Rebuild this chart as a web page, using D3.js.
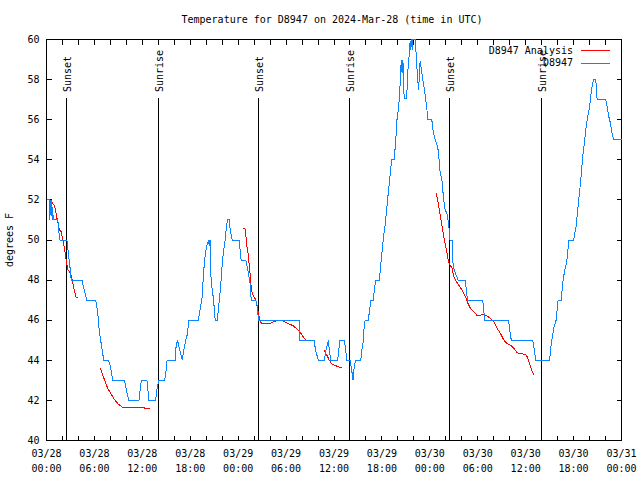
<!DOCTYPE html>
<html><head><meta charset="utf-8">
<script src="https://cdn.jsdelivr.net/npm/d3@7"></script>
<style>
body{margin:0;background:#fff}
svg{display:block}
text{font-family:"DejaVu Sans Mono",monospace;font-size:10px;fill:#000}
</style>
</head><body>
<svg id="chart" width="640" height="480"></svg>
<script>
// ---------------- data ----------------
const titleText = "Temperature for D8947 on 2024-Mar-28 (time in UTC)";
const yLabelText = "degrees F";
const startUTC = "2024-03-28T00:00:00Z";
const endUTC = "2024-03-31T00:00:00Z";
const yTickValues = [40, 42, 44, 46, 48, 50, 52, 54, 56, 58, 60];
const xTickHours = [0,2,4,6,8,10,12,14,16,18,20,22,24,26,28,30,32,34,36,38,40,42,44,46,48,50,52,54,56,58,60,62,64,66,68,70,72];
const xLabelHours = [0, 6, 12, 18, 24, 30, 36, 42, 48, 54, 60, 66, 72];
const sunLabels = ["Sunset", "Sunrise", "Sunset", "Sunrise", "Sunset", "Sunrise"];
const sunHours = [2.45, 13.95, 26.45, 37.92, 50.45, 61.88];
const seriesNames = ["D8947 Analysis", "D8947"];

// station observations: [hours since start, temperature F]
const stationObs = [[0,52],[0.35,52],[0.42,51],[0.5,52],[0.58,51.2],[0.66,52],[0.75,51],[0.8,51.3],[0.9,51],[1.42,51],[1.55,50.4],[1.7,50],[2.55,50],[2.75,49.3],[2.9,48.8],[3.1,48],[4.47,48],[4.6,47.7],[4.85,47.3],[5.06,47],[6.15,47],[6.3,46.7],[6.45,46.2],[6.55,45.7],[6.7,45.2],[6.9,44.7],[7.05,44.3],[7.19,44],[7.78,44],[8.0,43.7],[8.15,43.3],[8.32,43],[9.78,43],[10.0,42.5],[10.33,42],[11.58,42],[11.87,43],[12.58,43],[12.83,42],[13.67,42],[13.84,42.6],[14.05,43],[14.8,43],[14.93,43.3],[15.1,44],[16.1,44],[16.15,44.5],[16.4,45],[16.6,44.67],[17.0,44],[17.19,44.5],[17.44,45],[17.6,45.25],[17.73,45.67],[17.85,46],[19.0,46],[19.15,46.33],[19.28,46.67],[19.44,47],[19.53,47.33],[19.61,48],[19.73,48.67],[19.9,49.33],[20.03,49.67],[20.3,50],[20.38,49.7],[20.45,50],[20.5,50],[20.53,48.5],[20.66,47.83],[20.87,47.17],[20.99,46.67],[21.12,46],[21.41,46],[21.53,46.67],[21.66,47],[21.78,47.67],[21.91,48.17],[22.03,49],[22.2,49.5],[22.37,50],[22.45,50.33],[22.54,50.67],[22.66,51],[22.87,51],[22.95,50.67],[23.08,50.33],[23.25,50],[24.12,50],[24.25,49.5],[24.37,49],[24.96,49],[25.21,48.5],[25.43,48],[25.55,47.67],[25.63,47],[26.22,47],[26.38,46.7],[26.47,46.33],[26.55,46],[31.65,46],[31.74,45],[33.49,45],[33.7,44.5],[34.03,44],[34.79,44],[35.0,44.5],[35.29,45],[35.41,44.5],[35.62,44],[36.46,44],[36.59,44.5],[36.75,45],[37.3,45],[37.47,44.5],[37.59,44],[38.0,44],[38.22,43.5],[38.38,43],[38.55,43.75],[38.71,44],[39.35,44],[39.51,44.58],[39.68,45],[39.76,45.58],[39.89,46],[40.31,46],[40.44,46.5],[40.64,47],[40.93,47],[41.02,47.42],[41.23,48],[41.68,48],[41.81,48.58],[41.98,49.25],[42.1,49.75],[42.23,50.25],[42.4,50.75],[42.52,51.25],[42.65,51.75],[42.77,52.25],[42.9,52.75],[43.03,53.25],[43.11,53.58],[43.24,54],[43.57,54],[43.6,54.33],[43.69,54.75],[43.78,55.25],[43.86,55.92],[44.03,56.42],[44.15,56.92],[44.2,57.25],[44.28,57.75],[44.37,58.42],[44.41,59],[44.53,58.33],[44.62,59],[44.7,58.33],[44.78,57.08],[45.12,57.08],[45.16,57.75],[45.24,58.42],[45.37,59],[45.45,59.42],[45.53,59.92],[45.62,59.5],[45.7,60],[45.79,59.5],[45.87,60],[46.15,60],[46.29,59.25],[46.37,58.75],[46.45,58.08],[46.62,57.5],[46.66,58.1],[46.79,58.92],[46.91,58.58],[47.08,58.08],[47.29,57.58],[47.46,57.08],[47.62,56.58],[47.75,56],[48.25,56],[48.38,55.5],[48.67,55],[48.88,54.75],[49.08,54.42],[49.21,53.75],[49.3,53.33],[49.51,53],[49.71,52.1],[49.92,51.5],[50.14,51.33],[50.34,50.83],[50.47,50.33],[50.53,50],[50.83,50],[50.88,48.92],[51.05,48.5],[51.54,48],[52.44,48],[52.57,47.5],[52.73,47],[54.61,47],[54.73,46.67],[54.85,46],[57.87,46],[58.0,45.5],[58.2,45],[60.88,45],[61.09,44.5],[61.25,44],[63.0,44],[63.18,44.75],[63.35,45.17],[63.56,45.67],[63.81,46],[63.93,46.5],[64.06,47],[64.44,47],[64.56,47.5],[64.69,48],[64.89,48.5],[65.1,48.83],[65.23,49.17],[65.39,50],[66.02,50],[66.14,50.33],[66.31,50.67],[66.48,51.33],[66.6,51.83],[66.73,52.33],[66.86,52.83],[66.98,53.33],[67.07,53.83],[67.19,54.33],[67.36,54.83],[67.48,55.33],[67.7,56],[67.95,56.5],[68.12,57],[68.24,57.5],[68.4,57.83],[68.53,58],[68.78,58],[68.95,57],[70.03,57],[70.2,56.67],[70.4,56.17],[70.61,55.83],[70.74,55.5],[70.9,55.17],[71.03,55],[72,55]];

// analysis segments: [hours since start, temperature F]
const analysis1 = [[0.66,51.9],[0.92,51.75],[1.13,51.5],[1.3,51.1],[1.63,50.5],[1.84,50.42],[2.05,50],[2.17,49.75],[2.34,49.33],[2.47,49],[2.68,48.5],[2.89,48.42],[3.09,48.25],[3.3,47.83],[3.51,47.42],[3.72,47.13],[3.93,47.13]];
const analysis2 = [[6.77,43.6],[7.06,43.25],[7.36,42.92],[7.69,42.58],[8.11,42.3],[8.53,42.03],[8.95,41.83],[9.37,41.7],[9.57,41.63],[12.29,41.63],[12.35,41.58],[13.0,41.58]];
const analysis3 = [[24.62,50.58],[24.92,50.53],[25.04,49.83],[25.25,49.33],[25.34,48.92],[25.46,48.5],[25.55,48],[25.67,47.5],[25.88,47.25],[26.22,47],[26.38,46.67],[26.5,46.42],[26.72,46],[26.93,45.83],[27.98,45.83],[28.39,45.92],[28.81,45.97],[29.64,45.97],[30.27,45.83],[30.9,45.72],[31.32,45.58],[31.74,45.42],[32.15,45.17],[32.58,44.97]];
const analysis4 = [[34.75,44.53],[35.0,44.33],[35.21,44.17],[35.41,44],[35.71,43.83],[36.13,43.75],[36.54,43.67],[36.97,43.62]];
const analysis5 = [[48.8,52.33],[49.09,51.75],[49.3,51.25],[49.63,50.42],[49.92,49.8],[50.14,49.38],[50.34,48.9],[50.8,48.58],[51.0,48.17],[51.21,48],[51.63,47.75],[52.05,47.5],[52.47,47.17],[52.68,46.92],[53.1,46.58],[53.52,46.42],[53.94,46.22],[54.35,46.25],[54.77,46.3],[55.19,46.2],[55.6,46.08],[56.02,45.92],[56.44,45.58],[56.86,45.33],[57.28,45],[57.7,44.83],[58.12,44.75],[58.54,44.58],[58.96,44.37],[59.37,44.33],[60.0,44.3],[60.2,44.17],[60.41,43.92],[60.62,43.67],[60.83,43.42],[61.04,43.28]];
const analysisSegments = [analysis1, analysis2, analysis3, analysis4, analysis5];

// ---------------- drawing ----------------
const colors = {analysis: "#ff0000", obs: "#0a84ff"};
const svg = d3.select("#chart");
svg.append("rect").attr("width", 640).attr("height", 480).attr("fill", "#fff");

const t0 = new Date(startUTC);
const toDate = h => new Date(t0.getTime() + h * 3600e3);
const x = d3.scaleUtc().domain([t0, new Date(endUTC)]).range([46.5, 621.5]);
const y = d3.scaleLinear().domain([40, 60]).range([440.5, 39.5]);

const tickDates = xTickHours.map(toDate);

function styleAxis(g) {
  g.select(".domain").remove();
  g.selectAll(".tick line").attr("stroke", "#000").attr("shape-rendering", "crispEdges");
  g.selectAll("text").attr("font-family", "DejaVu Sans Mono").attr("font-size", 10).attr("fill", "#000");
}

svg.append("g").attr("transform", "translate(0,440.5)")
  .call(d3.axisBottom(x).tickValues(tickDates).tickSize(-5).tickFormat("").offset(0)).call(styleAxis);
svg.append("g").attr("transform", "translate(0,39.5)")
  .call(d3.axisTop(x).tickValues(tickDates).tickSize(-5).tickFormat("").offset(0)).call(styleAxis);
svg.append("g").attr("transform", "translate(46.5,0)")
  .call(d3.axisLeft(y).tickValues(yTickValues).tickSize(-5).tickPadding(7).tickFormat(d3.format("d")).offset(0)).call(styleAxis);
svg.append("g").attr("transform", "translate(621.5,0)")
  .call(d3.axisRight(y).tickValues(yTickValues).tickSize(-5).tickFormat("").offset(0)).call(styleAxis);

// x labels (two lines)
const fmtDay = d3.utcFormat("%m/%d"), fmtTime = d3.utcFormat("%H:%M");
const xl = svg.append("g").selectAll("text").data(xLabelHours.map(toDate)).join("text")
  .attr("text-anchor", "middle");
xl.append("tspan").attr("x", d => x(d)).attr("y", 457).text(d => fmtDay(d));
xl.append("tspan").attr("x", d => x(d)).attr("y", 472).text(d => fmtTime(d));

// border
svg.append("rect").attr("x", x(t0)).attr("y", y(60))
  .attr("width", x(new Date(endUTC)) - x(t0)).attr("height", y(40) - y(60))
  .attr("fill", "none").attr("stroke", "#000").attr("shape-rendering", "crispEdges");

// sunrise / sunset lines
const sun = svg.append("g").selectAll("g").data(sunHours.map((h, i) => ({h, label: sunLabels[i]}))).join("g");
sun.append("line").attr("x1", d => Math.round(x(toDate(d.h))) + 0.5).attr("x2", d => Math.round(x(toDate(d.h))) + 0.5)
  .attr("y1", 98).attr("y2", y(40)).attr("stroke", "#000").attr("shape-rendering", "crispEdges");
sun.append("text").attr("transform", d => `translate(${Math.round(x(toDate(d.h))) + 4.5},92) rotate(-90)`)
  .attr("text-anchor", "start").text(d => d.label);

// data lines
const line = d3.line().x(d => x(toDate(d[0]))).y(d => y(d[1]));
svg.append("g").selectAll("path").data(analysisSegments).join("path")
  .attr("d", line).attr("fill", "none").attr("stroke", colors.analysis).attr("stroke-width", 1)
  .attr("shape-rendering", "crispEdges");
svg.append("path").datum(stationObs).attr("d", line).attr("fill", "none")
  .attr("stroke", colors.obs).attr("stroke-width", 1).attr("shape-rendering", "crispEdges");

// title & y label
svg.append("text").attr("x", 332).attr("y", 23).attr("text-anchor", "middle").text(titleText);
svg.append("text").attr("transform", "translate(13,240) rotate(-90)").attr("text-anchor", "middle").text(yLabelText);

// legend
const legendColors = [colors.analysis, colors.obs];
const lg = svg.append("g").selectAll("g").data(seriesNames).join("g")
  .attr("transform", (d, i) => `translate(0,${50 + i * 12.5})`);
lg.append("text").attr("x", 573).attr("y", 3.5).attr("text-anchor", "end").text(d => d);
lg.append("line").attr("x1", 581).attr("x2", 610).attr("y1", 0.5).attr("y2", 0.5)
  .attr("stroke", (d, i) => legendColors[i]).attr("shape-rendering", "crispEdges");
</script>
</body></html>
